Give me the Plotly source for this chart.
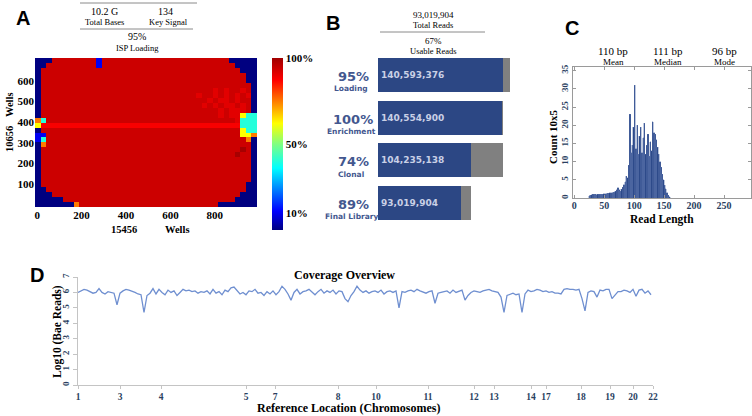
import plotly.graph_objects as go

W, H = 752, 416

# ---- panel A: chip loading map (top row first) ----
# n = empty well area, b/c/y/o = low/med loading spots, s/R = bright streaks, r = loaded, d = dark spots
chip_rows = [
    "nnnrrrrrrr" "rbrrrrrrrr" "rrrrrrrrrr" "rrrrrnnnnn",
    "nnrrrrrrrr" "rbrrrrrrrr" "rrrrrrrrrr" "rrrrrrnnnn",
    "nrrrrrrrrr" "rrrrrrrrrr" "rrrrrrrrrr" "rrrrrrrnnn",
    "nrrrrrrrrr" "rrrrrrrrrr" "rrrrrrrrrr" "rrrrrrrrnn",
    "nrrrrrrrrr" "rrrrrrrrrr" "rrrrrrrrrr" "rrrrrrrrnn",
    "nrrrrrrrrr" "rrrrrrrrrr" "rrrrrrrrrr" "rrrrrrrrrn",
    "nrrrrrrrrr" "rrrrrrrrrr" "rrrrrrrrrr" "rrRrRrrRrn",
    "nrrrrrrrrr" "rrrrrrrrrr" "rrrrrrrrrR" "rrRrRrRrRn",
    "nrrrrrrrrr" "rrrrrrrrrr" "rrrrrrrrrr" "rRrRRrRrrn",
    "nrrrrrrrrr" "rrrrrrrrrr" "rrrrrrrrrr" "RrRrRRrRrn",
    "nrrrrrrrrr" "rrrrrrrrrr" "rrrrrrrrrr" "rrrRrRRRrn",
    "nrrrrrrrrr" "rrrrrrrrrr" "rrrrrrrrrr" "rrrRrRRycc",
    "ocrrrrrrrr" "rrrrrrrrrr" "rrrrrrrrrr" "rrrrrrRccc",
    "ysssssssss" "ssssssssss" "ssssssssss" "sssssssccc",
    "nrrrrrrrrr" "rrrrrrrrrr" "rrrrrrrrrr" "rrrrrrrycc",
    "bbrrrrrrrr" "rrrrrrrrrr" "rrrrrrrrrr" "rrrrrrryyo",
    "bcrrrrrrrr" "rrrrrrrrrr" "rrrrrrrrrr" "rrrrrrrron",
    "norrrrrrrr" "rrrrrrrrrr" "rrrrrrrrrr" "rrrrrrrrrn",
    "nrrrrrrrrr" "rrrrrrrrrr" "rrrrrrrrrr" "rrrrrrrdrn",
    "nrrrrrrrrr" "rrrrrrrrrr" "rrrrrrrrrr" "rrrrrrdrrn",
    "nrrrrrrrrr" "rrrrrrrrrr" "rrrrrrrrrr" "rrrrrrrrrn",
    "nrrrrrrrrr" "rrrrrrrrrr" "rrrrrrrrrr" "rrrrrrrrrn",
    "nrrrrrrrrr" "rrrrrrrrrr" "rrrrrrrrrr" "rrrrrrrrrn",
    "nrrrrrrrrr" "rrrrrrrrrr" "rrrrrrrrrr" "rrrrrrrrrn",
    "nrrrrrrrrr" "rrrrrrrrrr" "rrrrrrrrrr" "rrrrrrrrrn",
    "nrrrrrrrrr" "rrrrrrrrrr" "rrrrrrrrrr" "rrrrrrrrnn",
    "nnrrrrrrrr" "rrrrrrrrrr" "rrrrrrrrrr" "rrrrrrrrnn",
    "nnnrrrrrrr" "rrrrrrrrrr" "rrrrrrrrrr" "rrrrrrrnnn",
    "nnnnnrrrrr" "rrrrrrrrrr" "rrrrrrrrrr" "rrrrrrnnnn",
    "nnnnnnnorr" "rrrrrrrrrr" "rrrrrrrrrr" "rrrnnnnnnn",
]
loading_level = {"n": 0, "b": 10, "c": 40, "y": 62, "o": 75, "R": 91, "s": 88, "r": 94, "d": 99}

# ---- panel B: read funnel ----
stages = ["Loading", "Enrichment", "Clonal", "Final Library"]
stage_pct = ["95%", "100%", "74%", "89%"]
stage_kept = [140593376, 140554900, 104235138, 93019904]
stage_total = [148000000, 140593376, 140554900, 104235138]

# ---- panel C: read length histogram (counts in 10^5, 2 bp bins from 25 bp) ----
read_counts = [0.6, 0.8, 0.9, 1.0, 1.0, 1.0, 0.9, 1.0, 1.0, 1.1, 1.0, 1.1, 1.2, 1.2, 1.2,
               1.3, 1.3, 1.4, 1.4, 1.5, 1.6, 1.6, 1.8,
               2.2, 2.8, 2.3, 1.9, 2.4, 3.0, 3.6, 4.4, 6.0, 5.5, 9.0, 23.0, 12.5, 14.5,
               19.5, 31.0, 13.5, 20.0, 12.0, 17.0, 19.5, 12.5, 16.5, 20.5, 12.0, 14.5,
               17.5, 11.5, 15.5, 13.0, 21.0, 18.0, 17.5, 16.0, 14.0, 12.0, 10.0, 8.5,
               6.5, 5.0, 3.5, 2.5, 1.5, 0.8, 0.3]

# ---- panel D: coverage along the reference ----
chrom_labels = ["1", "3", "4", "5", "7", "8", "10", "11", "12", "13", "14", "17", "18", "19", "20", "22"]
chrom_pos = [0, 42, 83, 168, 197, 260, 298, 350, 396, 416, 453, 468, 503, 532, 555, 575]
coverage = [
    6.0, 6.1, 6.2, 6.15, 6.05, 5.95, 6.0, 6.25, 6.0, 5.9,
    6.05, 6.0, 5.95, 5.2, 5.95, 6.1, 6.2, 6.15, 6.1, 6.0,
    5.9, 5.85, 4.7, 5.8, 5.95, 6.25, 5.9, 6.2, 6.0, 5.85,
    6.15, 6.0, 6.1, 5.8, 6.0, 6.2, 6.1, 6.15, 6.05, 6.1,
    5.95, 6.05, 6.0, 6.1, 5.9, 6.2, 5.95, 6.05, 5.85, 6.15,
    6.05, 6.3, 6.35, 6.1, 5.9, 6.0, 5.85, 6.1, 6.05, 6.2,
    5.95, 6.0, 5.8, 6.05, 5.9, 6.1, 5.85, 6.05, 6.4, 6.2,
    5.9, 5.5, 6.0, 6.2, 5.9, 6.05, 6.1, 6.2, 6.0, 5.85,
    6.05, 6.2, 5.95, 6.1, 6.0, 6.15, 5.9, 6.1, 6.05, 5.6,
    5.4, 5.8, 6.05, 6.4, 6.15, 6.0, 6.1, 5.95, 6.05, 6.1,
    6.0, 6.15, 5.9, 6.05, 6.1, 6.0, 6.1, 5.0, 6.05, 6.0,
    6.1, 6.15, 6.05, 6.2, 6.1, 6.0, 5.95, 6.05, 6.1, 5.3,
    5.95, 6.0, 6.05, 6.1, 5.95, 6.15, 6.0, 6.1, 6.15, 5.5,
    5.8, 6.0, 6.1, 6.05, 6.0, 6.1, 6.15, 6.2, 6.1, 6.05,
    6.0, 5.7, 4.7, 5.8, 5.9, 5.95, 5.85, 5.9, 4.7, 5.9,
    6.15, 6.05, 6.1, 6.2, 6.15, 6.05, 6.1, 6.0, 6.05, 5.95,
    5.95, 5.9, 6.2, 6.25, 6.2, 6.2, 6.15, 6.2, 5.6, 4.8,
    6.0, 6.1, 6.05, 5.7, 6.15, 6.1, 6.2, 6.2, 5.6, 5.85,
    6.05, 6.05, 6.15, 6.1, 6.0, 6.2, 5.75, 6.15, 6.2, 5.95,
    6.1, 5.85,
]

SERIF = "Liberation Serif"
SANS = "Liberation Sans"
DEJA = "DejaVu Sans"
NAVY = "#2c4784"
LABEL_BLUE = "#43578f"


def px(x):
    return x / W


def py(y):
    return 1 - y / H


jet = [[0, "#000080"], [0.11, "#0000ff"], [0.36, "#00ffff"], [0.5, "#80ff80"],
       [0.62, "#ffff00"], [0.87, "#ff0000"], [1, "#a00000"]]

z = [[loading_level[ch] for ch in row] for row in reversed(chip_rows)]

fig = go.Figure()
fig.add_trace(go.Heatmap(
    z=z, x0=2.5, dx=25, y0=2, dy=24, zmin=0, zmax=100, colorscale=jet,
    xaxis="x", yaxis="y", hoverinfo="skip",
    colorbar=dict(thickness=11, thicknessmode="pixels", len=172, lenmode="pixels",
                  x=px(272), xanchor="left", y=py(58), yanchor="top", xpad=0, ypad=0,
                  tickvals=[100, 50, 10], ticktext=["100%", "50%", "10%"], ticks="",
                  outlinewidth=0, tickfont=dict(family=SERIF, size=11, weight="bold", color="black")),
))

stage_lost = [t - k for t, k in zip(stage_total, stage_kept)]
fig.add_trace(go.Bar(
    y=stages, x=stage_kept, orientation="h", width=0.8, xaxis="x2", yaxis="y2",
    marker=dict(color=NAVY, line=dict(width=0)),
    text=[f"{v:,}" for v in stage_kept], textposition="inside", insidetextanchor="start",
    textfont=dict(family=DEJA, size=9, weight="bold", color="#c9d0e6"),
))
fig.add_trace(go.Bar(
    y=stages, x=stage_lost, orientation="h", width=0.8, xaxis="x2", yaxis="y2",
    marker=dict(color="#808080", line=dict(width=0)),
))

fig.add_trace(go.Bar(
    x0=25, dx=2, y=read_counts, width=2, xaxis="x3", yaxis="y3",
    marker=dict(color="#2d4a8a", line=dict(color="#5d76ad", width=0.4)),
))

fig.add_trace(go.Scatter(
    x0=0, dx=3, y=coverage, mode="lines", xaxis="x4", yaxis="y4",
    line=dict(color="#6f8fd0", width=1.3),
))

tickf = dict(family=SERIF, size=11, weight="bold", color="black")
fig.update_layout(
    width=W, height=H, margin=dict(l=0, r=0, t=0, b=0, autoexpand=False),
    paper_bgcolor="white", plot_bgcolor="white", showlegend=False,
    barmode="stack",
    xaxis=dict(domain=[px(35), px(257)], range=[-10, 990], tickvals=[0, 200, 400, 600, 800],
               showgrid=False, zeroline=False, ticks="", tickfont=tickf, anchor="y", automargin=False),
    yaxis=dict(domain=[py(207), py(58)], range=[-10, 710], tickvals=[100, 200, 300, 400, 500, 600],
               showgrid=False, zeroline=False, ticks="", tickfont=tickf, anchor="x", automargin=False),
    xaxis2=dict(domain=[px(378), px(518)], range=[0, 157.5e6], visible=False, anchor="y2"),
    yaxis2=dict(domain=[py(224.3), py(53.7)], range=[3.5, -0.5], type="category",
                categoryorder="array", categoryarray=stages, visible=False, anchor="x2"),
    xaxis3=dict(domain=[px(573), px(751)], range=[-2, 295], tickvals=[0, 50, 100, 150, 200, 250],
                showgrid=False, zeroline=False, showline=True, linecolor="#9a9a9a", mirror="ticks",
                ticks="inside", ticklen=3, tickcolor="#9a9a9a", tickfont=dict(family=SERIF, size=10, weight="bold"),
                ticklabelstandoff=-2, anchor="y3", automargin=False),
    yaxis3=dict(domain=[py(198), py(67)], range=[0, 36], dtick=5, tickangle=-90,
                showgrid=False, zeroline=False, showline=True, linecolor="#9a9a9a", mirror="ticks",
                ticks="inside", ticklen=3, tickcolor="#9a9a9a", tickfont=dict(family=SERIF, size=9, weight="bold"),
                anchor="x3", automargin=False),
    xaxis4=dict(domain=[px(78), px(653)], range=[0, 575], tickvals=chrom_pos, ticktext=chrom_labels,
                showgrid=False, zeroline=False, showline=True, linecolor="#c4c4c4", ticks="outside",
                ticklen=3, tickcolor="#c4c4c4", tickfont=dict(family=SERIF, size=9.5, weight="bold"),
                anchor="y4", automargin=False),
    yaxis4=dict(domain=[py(385), py(277)], range=[0, 7], dtick=1, tickangle=-90,
                showgrid=False, zeroline=False, showline=True, linecolor="#c4c4c4", ticks="outside",
                ticklen=4, tickcolor="#c4c4c4", tickfont=dict(family=SERIF, size=9, weight="bold"),
                anchor="x4", automargin=False),
)

notes = []


def note(x, y, text, size, family=SERIF, bold=False, color="black", angle=0, xanchor="center"):
    notes.append(dict(x=px(x), y=py(y), xref="paper", yref="paper", text=text, showarrow=False,
                      xanchor=xanchor, yanchor="middle", textangle=angle,
                      font=dict(family=family, size=size, color=color, weight="bold" if bold else "normal")))


# panel letters
note(23, 18, "A", 20, SANS, True)
note(333, 23, "B", 20, SANS, True)
note(572, 28, "C", 20, SANS, True)
note(37, 275, "D", 20, SANS, True)

# panel A header
note(104, 11, "10.2 G", 10)
note(104, 22, "Total Bases", 8.5)
note(165, 11, "134", 10)
note(168, 22, "Key Signal", 8.5)
note(137, 36, "95%", 10)
note(137, 48, "ISP Loading", 8.5)
note(124, 229, "15456", 10.5, bold=True)
note(177, 229, "Wells", 10.5, bold=True)
note(9, 139, "10656", 10.5, bold=True, angle=-90)
note(9, 105, "Wells", 10.5, bold=True, angle=-90)

# panel B header and stage labels
note(433, 15, "93,019,904", 9)
note(433, 25, "Total Reads", 8.5)
note(433, 41, "67%", 9)
note(433, 51, "Usable Reads", 8.5)
stage_y = [75, 118, 161, 203]
for yy, pct, name in zip(stage_y, stage_pct, stages):
    note(353, yy + 1, pct, 13, DEJA, True, LABEL_BLUE)
    note(351, yy + 13, name, 7.5, DEJA, True, LABEL_BLUE)

# panel C header and titles
for xx, val, name in zip([613, 668, 724], ["110 bp", "111 bp", "96 bp"], ["Mean", "Median", "Mode"]):
    note(xx, 51, val, 11)
    note(xx, 62, name, 9)
note(553, 137, "Count 10x5", 11, bold=True, angle=-90)
note(662, 219, "Read Length", 11.5, bold=True)

# panel D titles
note(344, 275, "Coverage Overview", 12, bold=True)
note(57, 332, "Log10 (Bae Reads)", 11.5, bold=True, angle=-90)
note(349, 408, "Reference Location (Chromosomes)", 12, bold=True)

fig.update_layout(annotations=notes)

rule = dict(color="#8a8a8a", width=1)
fig.update_layout(shapes=[
    dict(type="line", xref="paper", yref="paper", x0=px(80), x1=px(197), y0=py(3), y1=py(3), line=rule),
    dict(type="line", xref="paper", yref="paper", x0=px(80), x1=px(193), y0=py(29), y1=py(29), line=rule),
    dict(type="line", xref="paper", yref="paper", x0=px(380), x1=px(485), y0=py(32), y1=py(32), line=rule),
])

# the page body has a default 8px margin; drop it so the figure sits at the window corner
fig.write_html("out.html", config={"displayModeBar": False},
               post_script="document.body.style.margin='0px';")
